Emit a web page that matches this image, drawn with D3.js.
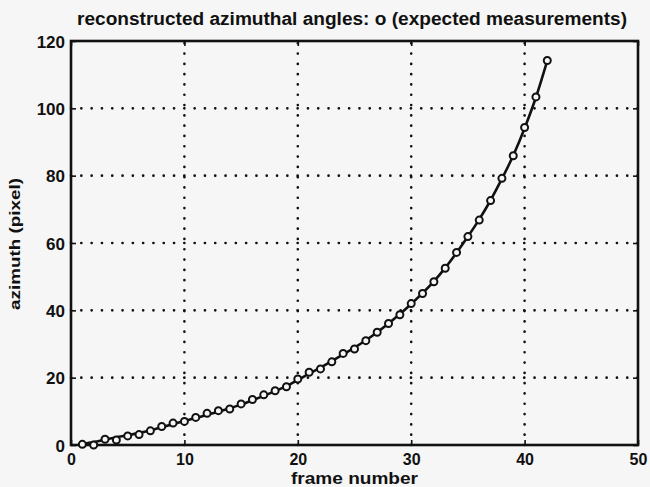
<!DOCTYPE html>
<html>
<head>
<meta charset="utf-8">
<script src="https://cdn.jsdelivr.net/npm/d3@7"></script>
<style>
  body { margin: 0; background: #f6f6f6; }
  svg { display: block; background: #f6f6f6; }
  text { fill: #111; font-family: "Liberation Sans", Arial, sans-serif; font-weight: bold; }
</style>
</head>
<body>
<script>
const W = 650
const H = 487

// frame numbers, fitted curve and expected measurements (circles)
const frames = d3.range(1, 43)
const fitted = [0.3, 0.9, 1.6, 2.3, 2.9, 3.6, 4.4, 5.3, 6.2, 7.1,
  8.0, 9.0, 9.9, 10.9, 12.0, 13.3, 14.6, 16.0, 17.5, 19.3,
  21.2, 23.0, 24.9, 26.9, 28.9, 31.1, 33.5, 36.1, 38.9, 41.9,
  45.1, 48.6, 52.6, 57.1, 61.9, 67.0, 72.7, 79.1, 86.0, 94.1,
  103.3, 114.2]
const measured = [0.2, 0.0, 1.7, 1.5, 2.7, 3.1, 4.2, 5.5, 6.5, 7.0,
  8.2, 9.4, 10.2, 10.7, 12.2, 13.5, 14.9, 16.1, 17.3, 19.6,
  21.6, 22.6, 24.7, 27.2, 28.5, 31.0, 33.5, 36.1, 38.7, 42.0,
  45.0, 48.5, 52.5, 57.2, 61.9, 66.8, 72.6, 79.2, 85.9, 94.3,
  103.4, 114.2]

const xTicks = [0, 10, 20, 30, 40, 50]
const yTicks = [0, 20, 40, 60, 80, 100, 120]

const titleText = 'reconstructed azimuthal angles: o (expected measurements)'
const xLabel = 'frame number'
const yLabel = 'azimuth (pixel)'

const margin = { top: 41, right: 12, bottom: 42, left: 71 }
const iw = W - margin.left - margin.right
const ih = H - margin.top - margin.bottom

const x = d3.scaleLinear().domain([0, 50]).range([0, iw])
const y = d3.scaleLinear().domain([0, 120]).range([ih, 0])

const svg = d3.select('body').append('svg')
  .attr('width', W)
  .attr('height', H)

const g = svg.append('g')
  .attr('transform', `translate(${margin.left},${margin.top})`)

// dotted grid
const gridStyle = sel => sel
  .attr('stroke', '#111')
  .attr('stroke-width', 2.6)
  .attr('stroke-linecap', 'round')
  .attr('stroke-dasharray', '0.1,10.2')

g.selectAll('.vgrid')
  .data(xTicks.slice(1, -1))
  .enter().append('line')
  .attr('class', 'vgrid')
  .attr('x1', d => x(d)).attr('x2', d => x(d))
  .attr('y1', ih).attr('y2', 0)
  .call(gridStyle)

g.selectAll('.hgrid')
  .data(yTicks.slice(1, -1))
  .enter().append('line')
  .attr('class', 'hgrid')
  .attr('x1', 0).attr('x2', iw)
  .attr('y1', d => y(d)).attr('y2', d => y(d))
  .call(gridStyle)

// axes, ticks pointing inward
const xAxis = g.append('g')
  .attr('transform', `translate(0,${ih})`)
  .call(d3.axisBottom(x).tickValues(xTicks).tickSize(-5).tickPadding(9))
const yAxis = g.append('g')
  .call(d3.axisLeft(y).tickValues(yTicks).tickSize(-5).tickPadding(6))
g.append('g')
  .call(d3.axisTop(x).tickValues(xTicks).tickSize(-5).tickFormat(''))
g.append('g')
  .attr('transform', `translate(${iw},0)`)
  .call(d3.axisRight(y).tickValues(yTicks).tickSize(-5).tickFormat(''))

g.selectAll('.domain').remove()
g.selectAll('.tick line').attr('stroke', '#111').attr('stroke-width', 1.6)
xAxis.selectAll('text').attr('font-size', 16).attr('fill', '#111')
yAxis.selectAll('text').attr('font-size', 17).attr('fill', '#111').attr('dy', '0.36em')

g.append('rect')
  .attr('width', iw)
  .attr('height', ih)
  .attr('fill', 'none')
  .attr('stroke', '#111')
  .attr('stroke-width', 2.6)

// fitted curve
const line = d3.line()
  .x((d, i) => x(frames[i]))
  .y(d => y(d))
  .curve(d3.curveMonotoneX)

g.append('path')
  .datum(fitted)
  .attr('d', line)
  .attr('fill', 'none')
  .attr('stroke', '#111')
  .attr('stroke-width', 2.6)

// expected measurements
g.selectAll('.pt')
  .data(measured)
  .enter().append('circle')
  .attr('class', 'pt')
  .attr('cx', (d, i) => x(frames[i]))
  .attr('cy', d => y(d))
  .attr('r', 3.5)
  .attr('fill', '#f6f6f6')
  .attr('stroke', '#111')
  .attr('stroke-width', 2)

// labels
svg.append('text')
  .attr('x', 352)
  .attr('y', 25)
  .attr('text-anchor', 'middle')
  .attr('font-size', 18)
  .attr('textLength', 550)
  .attr('lengthAdjust', 'spacingAndGlyphs')
  .text(titleText)

svg.append('text')
  .attr('x', margin.left + iw / 2)
  .attr('y', 484)
  .attr('text-anchor', 'middle')
  .attr('font-size', 16)
  .attr('textLength', 127)
  .attr('lengthAdjust', 'spacingAndGlyphs')
  .text(xLabel)

svg.append('text')
  .attr('transform', 'translate(20,244) rotate(-90)')
  .attr('text-anchor', 'middle')
  .attr('font-size', 15)
  .attr('textLength', 132)
  .attr('lengthAdjust', 'spacingAndGlyphs')
  .text(yLabel)
</script>
</body>
</html>
